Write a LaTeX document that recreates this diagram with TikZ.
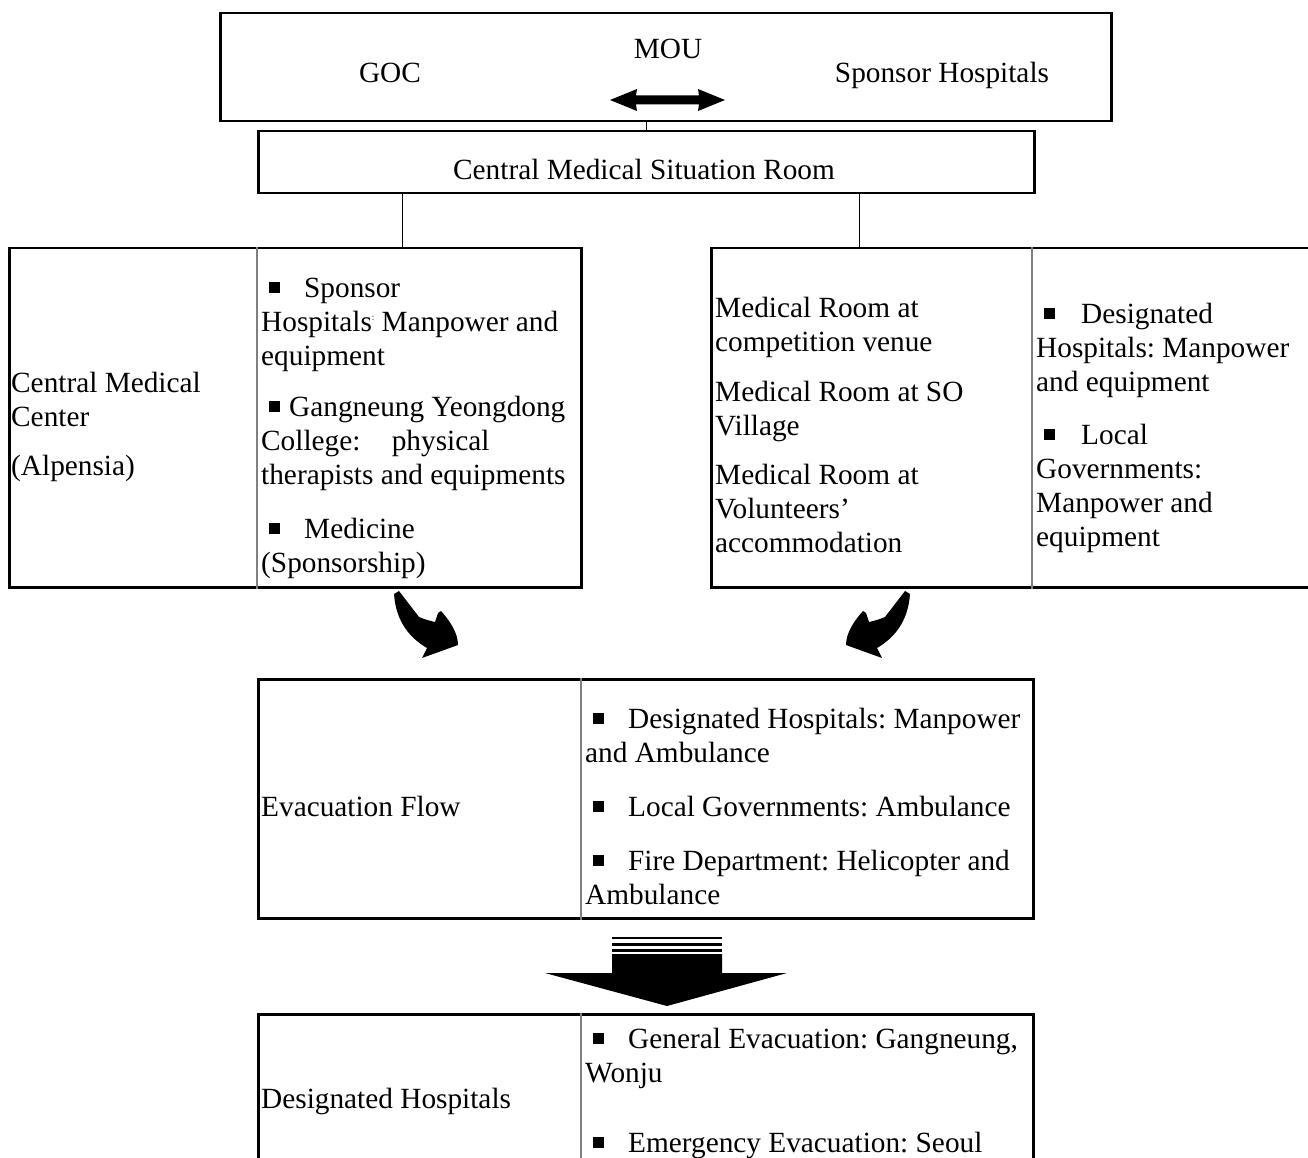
\documentclass[tikz,border=0pt]{standalone}
\usepackage{fontspec}
\setmainfont{Liberation Serif}
\frenchspacing
\newcommand{\bsq}[1]{\hspace*{8pt}\rule[4pt]{11pt}{11pt}\hspace*{#1}}
\begin{document}
\begin{tikzpicture}[x=1pt,y=-1pt,
  box/.style={draw, line width=2.5pt, inner sep=0pt, anchor=north west},
  div/.style={draw=gray, line width=1.3pt},
  link/.style={line width=1pt},
  txt/.style={anchor=base west, inner sep=0pt, align=left, font=\fontsize{29.3}{34}\selectfont},
  ctxt/.style={anchor=base, inner sep=0pt, font=\fontsize{29.3}{34}\selectfont}]
\useasboundingbox[fill=white] (0,0) rectangle (1308,1158);

% boxes
\node[box, minimum width=891pt, minimum height=108pt] (top) at (219,12) {};
\node[box, minimum width=776pt, minimum height=62pt] (cmsr) at (257,130) {};
\node[box, minimum width=572pt, minimum height=339pt] (lbox) at (8,247) {};
\node[box, minimum width=602pt, minimum height=339pt] (rbox) at (710,247) {};
\node[box, minimum width=775pt, minimum height=239pt] (evac) at (257,678) {};
\node[box, minimum width=775pt, minimum height=160pt] (dest) at (257,1013) {};

% helper coordinates
\coordinate (cl) at (402,0);
\coordinate (cr) at (859,0);
\coordinate (dl) at (257,0);
\coordinate (dr) at (1032,0);
\coordinate (de) at (581,0);

% connectors
\draw[link] (cmsr.north) -- (cmsr.north |- top.south);
\draw[link] (cmsr.south -| cl) -- (lbox.north -| cl);
\draw[link] (cmsr.south -| cr) -- (rbox.north -| cr);

% dividers
\draw[div] (lbox.north -| dl) -- (lbox.south -| dl);
\draw[div] (rbox.north -| dr) -- (rbox.south -| dr);
\draw[div] (evac.north -| de) -- (evac.south -| de);
\draw[div] (dest.north -| de) -- (dest.south -| de);

% top box texts
\node[ctxt] (goc) at (390,83) {GOC};
\node[ctxt] (mou) at (668,59) {MOU};
\node[ctxt] (sph) at (942,83) {Sponsor Hospitals};
\fill (610,100) -- (637,89) -- (636,95.5) -- (699,95.5) -- (698,89) -- (725,100)
      -- (698,111) -- (699,104.5) -- (636,104.5) -- (637,111) -- cycle;

\node[ctxt] (cmsrt) at (644,180) {Central Medical Situation Room};

% left box (anchor = baseline of last line)
\node[txt] (cmc) at (11,426) {Central Medical\\Center};
\node[txt] (alp) at (11,475) {(Alpensia)};
\node[txt] (l1) at (261,365) {\bsq{24pt}Sponsor\\Hospitals{\fontsize{9}{9}\selectfont\raisebox{11pt}{:}} Manpower and\\equipment};
\node[txt] (l2) at (261,484) {\bsq{9pt}Gangneung Yeongdong\\College:\hspace*{24pt} physical\\therapists and equipments};
\node[txt] (l3) at (261,572) {\bsq{24pt}Medicine\\(Sponsorship)};

% right box
\node[txt] (r1) at (715,351) {Medical Room at\\competition venue};
\node[txt] (r2) at (715,435) {Medical Room at SO\\Village};
\node[txt] (r3) at (715,552) {Medical Room at\\Volunteers’\\accommodation};
\node[txt] (r4) at (1036,391) {\bsq{26pt}Designated\\Hospitals: Manpower\\and equipment};
\node[txt] (r5) at (1036,546) {\bsq{26pt}Local\\Governments:\\Manpower and\\equipment};

% curved arrows
\def\curvearrow{(394,594) -- (399,591) -- (419,617) .. controls (426,620) and (431,621) .. (435,622)
  -- (438,613) -- (441,611) .. controls (450,621) and (458,633) .. (458,645)
  -- (422,658) -- (427,648) .. controls (410,638) and (396,622) .. (394,594) -- cycle}
\fill \curvearrow;
\begin{scope}[xshift=1304pt, xscale=-1]
\fill \curvearrow;
\end{scope}

% evacuation box
\node[txt] (evf) at (261,816) {Evacuation Flow};
\node[txt] (e1) at (585,762) {\bsq{24pt}Designated Hospitals: Manpower\\and Ambulance};
\node[txt] (e2) at (585,816) {\bsq{24pt}Local Governments: Ambulance};
\node[txt] (e3) at (585,904) {\bsq{24pt}Fire Department: Helicopter and\\Ambulance};

% block down arrow
\fill (612,937) rectangle (722,939);
\fill (612,943) rectangle (722,946);
\fill (612,948.5) rectangle (722,951.5);
\fill (612,954) -- (722,954) -- (722,973) -- (787,973) -- (667,1006) -- (545,973) -- (612,973) -- cycle;

% designated hospitals box
\node[txt] (dh) at (261,1108) {Designated Hospitals};
\node[txt] (d1) at (585,1082) {\bsq{24pt}General Evacuation: Gangneung,\\Wonju};
\node[txt] (d2) at (585,1152) {\bsq{24pt}Emergency Evacuation: Seoul};
\end{tikzpicture}
\end{document}
